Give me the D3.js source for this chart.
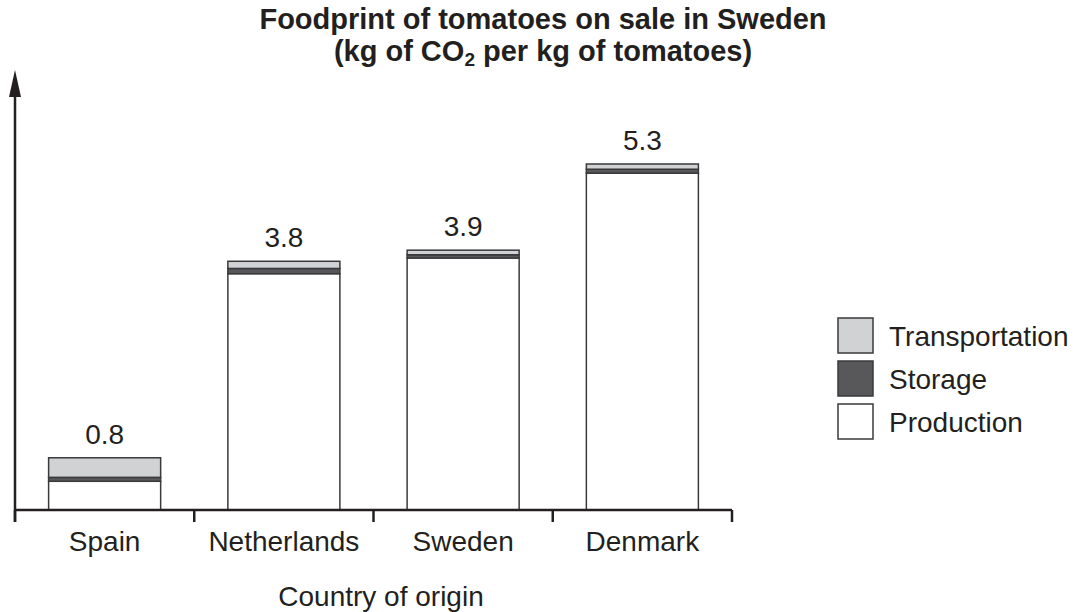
<!DOCTYPE html>
<html>
<head>
<meta charset="utf-8">
<style>
body { margin: 0; background: #fff; }
text { font-family: "Liberation Sans", Arial, sans-serif; fill: #231f20; }
</style>
</head>
<body>
<svg id="mysvg" width="1079" height="612"></svg>

<script src="https://d3js.org/d3.v7.min.js"></script>
<script>

// data (kg CO2 per kg tomatoes)
var countries = ["Spain", "Netherlands", "Sweden", "Denmark"]
var production = [0.44, 3.62, 3.86, 5.16]
var storage = [0.06, 0.08, 0.05, 0.06]
var transportation = [0.30, 0.11, 0.07, 0.08]
var totalLabels = ["0.8", "3.8", "3.9", "5.3"]

var seriesNames = ["Production", "Storage", "Transportation"]
var seriesColors = ["#ffffff", "#58585a", "#d1d2d4"]

var svg = d3.select("#mysvg")
var ink = "#231f20"

var x = d3.scaleBand().domain(countries).range([15, 732])
          .paddingInner(0.375).paddingOuter(0.1875)
var y = d3.scaleLinear().domain([0, 5.3]).range([510, 164])

// build rows for d3.stack
var rows = countries.map(function(c, i){
  return {country: c, Production: production[i], Storage: storage[i], Transportation: transportation[i]}
})
var stacked = d3.stack().keys(seriesNames)(rows)

svg.selectAll(".layer").data(stacked).enter().append("g")
   .attr("class", "layer")
   .attr("fill", function(d, i){ return seriesColors[i] })
   .selectAll("rect").data(function(d){ return d }).enter().append("rect")
   .attr("x", function(d){ return x(d.data.country) })
   .attr("y", function(d){ return y(d[1]) })
   .attr("width", x.bandwidth())
   .attr("height", function(d){ return y(d[0]) - y(d[1]) })
   .attr("stroke", "#3a3a3c")
   .attr("stroke-width", 1.5)

// value labels
svg.selectAll(".val").data(countries).enter().append("text")
   .attr("class", "val")
   .attr("x", function(d){ return x(d) + x.bandwidth()/2 })
   .attr("y", function(d, i){ return y(production[i] + storage[i] + transportation[i]) - 14 })
   .attr("text-anchor", "middle")
   .attr("font-size", 28)
   .text(function(d, i){ return totalLabels[i] })

// x axis line + boundary ticks
var step = x.step()
var bounds = [0, 1, 2, 3, 4].map(function(k){ return 15 + k*step })
svg.append("line").attr("x1", 15).attr("x2", 732).attr("y1", 510).attr("y2", 510)
   .attr("stroke", ink).attr("stroke-width", 2.5)
svg.selectAll(".tick").data(bounds).enter().append("line")
   .attr("x1", function(d){ return d }).attr("x2", function(d){ return d })
   .attr("y1", 510).attr("y2", 522)
   .attr("stroke", ink).attr("stroke-width", 2.5)

svg.selectAll(".cat").data(countries).enter().append("text")
   .attr("x", function(d){ return x(d) + x.bandwidth()/2 })
   .attr("y", 551)
   .attr("text-anchor", "middle")
   .attr("font-size", 28)
   .text(function(d){ return d })

// y axis with arrow
svg.append("line").attr("x1", 15).attr("x2", 15).attr("y1", 522).attr("y2", 92)
   .attr("stroke", ink).attr("stroke-width", 2.5)
svg.append("path").attr("d", "M15,70 L9,97 L21,97 Z").attr("fill", ink)

svg.append("text").attr("x", 381).attr("y", 606).attr("text-anchor", "middle")
   .attr("font-size", 28).text("Country of origin")

// title
svg.append("text").attr("x", 543).attr("y", 29).attr("text-anchor", "middle")
   .attr("font-size", 29).attr("font-weight", "bold")
   .text("Foodprint of tomatoes on sale in Sweden")
var t2 = svg.append("text").attr("x", 543).attr("y", 61).attr("text-anchor", "middle")
   .attr("font-size", 29).attr("font-weight", "bold")
t2.append("tspan").text("(kg of CO")
t2.append("tspan").attr("font-size", 19).attr("dy", 5).text("2")
t2.append("tspan").attr("dy", -5).text(" per kg of tomatoes)")

// legend
var legendNames = ["Transportation", "Storage", "Production"]
var legendColors = ["#d1d2d4", "#58585a", "#ffffff"]
var lg = svg.selectAll(".leg").data(legendNames).enter().append("g")
   .attr("transform", function(d, i){ return "translate(838," + (318 + i*43) + ")" })
lg.append("rect").attr("width", 35).attr("height", 35)
   .attr("fill", function(d, i){ return legendColors[i] })
   .attr("stroke", "#3a3a3c").attr("stroke-width", 1.5)
lg.append("text").attr("x", 51).attr("y", 28).attr("font-size", 28)
   .text(function(d){ return d })

</script>
</body>
</html>
